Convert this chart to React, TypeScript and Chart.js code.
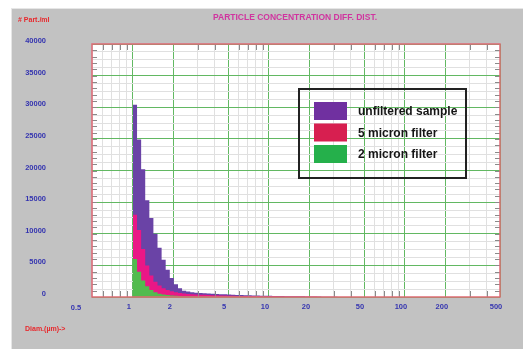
import React, { useEffect, useRef } from 'react';
import { Chart, registerables } from 'chart.js';

Chart.register(...registerables);

// Bin lower edges (µm); last entry closes the final bin
const diameters = [
  1.0, 1.072, 1.149, 1.231, 1.32, 1.414, 1.516, 1.625, 1.741, 1.866,
  2.0, 2.144, 2.297, 2.462, 2.639, 2.828, 3.031, 3.249, 3.482, 3.732,
  4.0, 4.287, 4.595, 4.925, 5.278, 5.657, 6.063, 6.498, 6.964, 7.464,
  8.0, 8.574, 9.19, 9.849, 10.56, 11.31, 12.13, 13.0, 13.93, 14.93,
  16.0, 17.15, 18.38, 19.7, 21.11, 22.63, 24.25, 25.99, 27.86, 29.86, 32.0,
];

const unfiltered = [
  30400, 24900, 20200, 15300, 12500, 10000, 7800, 5900, 4300, 3000,
  2000, 1400, 1000, 850, 750, 680, 620, 580, 550, 520,
  480, 450, 420, 380, 350, 320, 300, 280, 260, 240,
  220, 200, 190, 180, 170, 150, 140, 130, 120, 110,
  100, 130, 90, 80, 70, 60, 50, 40, 30, 20, 0,
];

const micron5 = [
  13000, 10600, 7600, 5000, 3400, 2400, 1800, 1400, 1100, 900,
  750, 620, 540, 480, 440, 400, 370, 340, 310, 290,
  270, 250, 230, 210, 190, 170, 150, 130, 120, 110,
  100, 90, 80, 70, 60, 50, 50, 40, 40, 30,
  30, 30, 20, 20, 20, 10, 10, 10, 0, 0, 0,
];

const micron2 = [
  6000, 4000, 2600, 1700, 1100, 750, 500, 400, 300, 250,
  200, 160, 130, 110, 100, 90, 80, 70, 60, 50,
  40, 40, 30, 30, 20, 20, 20, 10, 10, 10,
  10, 10, 0, 0, 0, 0, 0, 0, 0, 0,
  0, 0, 0, 0, 0, 0, 0, 0, 0, 0, 0,
];

const seriesLabels = ['unfiltered sample', '5 micron filter', '2 micron filter'];
const fillColors = ['#6a43a6', '#ea1786', '#52bb4e'];
const legendColors = ['#7030a0', '#d71f50', '#25b04b'];

const xTickValues = [
  0.5, 0.6, 0.7, 0.8, 0.9, 1, 2, 3, 4, 5, 6, 7, 8, 9,
  10, 20, 30, 40, 50, 60, 70, 80, 90, 100, 200, 300, 400, 500,
];
const xLabelValues = [1, 2, 5, 10, 20, 50, 100, 200, 500];
const yMin = 0;
const yMax = 40000;
const yLabelStep = 5000;
const yGridStep = 1250;
const yEdgeTickStep = 1000;

const titleText = 'PARTICLE CONCENTRATION DIFF. DIST.';
const yTitleText = '# Part./ml';
const xTitleText = 'Diam.(µm)->';

const FONT = '"Liberation Sans", Arial, sans-serif';
const GREEN = '#62b862';
const MINOR = '#e0e0e0';

const decorPlugin = {
  id: 'decor',
  beforeDraw(chart: any) {
    const { ctx, chartArea: a } = chart;
    ctx.save();
    ctx.fillStyle = '#ffffff';
    ctx.fillRect(a.left, a.top, a.right - a.left, a.bottom - a.top);
    ctx.restore();
  },
  afterDraw(chart: any) {
    const { ctx, chartArea: a, scales } = chart;
    const xs = scales.x;
    const ys = scales.y;
    ctx.save();
    // edge ticks
    ctx.strokeStyle = '#8a8a8a';
    ctx.lineWidth = 1;
    ctx.beginPath();
    xTickValues.forEach((v) => {
      if (xLabelValues.includes(v) || v === 0.5) return;
      const px = Math.round(xs.getPixelForValue(v)) + 0.5;
      ctx.moveTo(px, a.bottom);
      ctx.lineTo(px, a.bottom - 6);
      ctx.moveTo(px, a.top);
      ctx.lineTo(px, a.top + 6);
    });
    for (let v = yMin + yEdgeTickStep; v < yMax; v += yEdgeTickStep) {
      const py = Math.round(ys.getPixelForValue(v)) + 0.5;
      ctx.moveTo(a.left, py);
      ctx.lineTo(a.left + 5, py);
      ctx.moveTo(a.right, py);
      ctx.lineTo(a.right - 5, py);
    }
    ctx.stroke();
    // frame
    ctx.strokeStyle = '#e06a76';
    ctx.lineWidth = 1.5;
    ctx.strokeRect(a.left, a.top, a.right - a.left, a.bottom - a.top);

    // legend
    const lx = a.left + 207;
    const ly = a.top + 45;
    ctx.strokeStyle = '#222222';
    ctx.lineWidth = 2;
    ctx.strokeRect(lx, ly, 167, 89);
    ctx.font = `bold 12px ${FONT}`;
    ctx.textBaseline = 'middle';
    ctx.textAlign = 'left';
    seriesLabels.forEach((lab, i) => {
      const top = ly + 13 + i * 21.5;
      ctx.fillStyle = legendColors[i];
      ctx.fillRect(lx + 15, top, 33, 18);
      ctx.fillStyle = '#151515';
      ctx.fillText(lab, lx + 59, top + 10);
    });

    // texts
    ctx.font = `bold 8.5px ${FONT}`;
    ctx.fillStyle = '#d0359f';
    ctx.textAlign = 'center';
    ctx.fillText(titleText, 295, 18);
    ctx.font = `bold 7px ${FONT}`;
    ctx.fillStyle = '#e8282c';
    ctx.textAlign = 'left';
    ctx.fillText(yTitleText, 18, 20);
    ctx.fillText(xTitleText, 25, 329);
    // the 0.5 label sits left of the plot edge
    ctx.font = `bold 7.5px ${FONT}`;
    ctx.fillStyle = '#3535b0';
    ctx.textAlign = 'center';
    ctx.fillText('0.5', xs.getPixelForValue(0.5) - 16, 308);
    ctx.restore();
  },
};

function makeData(values: number[]) {
  return diameters.map((d, i) => ({ x: d, y: values[i] }));
}

export default function App() {
  const ref = useRef<HTMLCanvasElement>(null);
  useEffect(() => {
    if (!ref.current) return;
    const series = [unfiltered, micron5, micron2];
    const chart = new Chart(ref.current, {
      type: 'line',
      data: {
        datasets: series.map((s, i) => ({
          label: seriesLabels[i],
          data: makeData(s),
          stepped: 'before',
          fill: 'origin',
          backgroundColor: fillColors[i],
          borderColor: fillColors[i],
          borderWidth: 0,
          pointRadius: 0,
          order: 3 - i,
        })),
      } as any,
      options: {
        animation: false,
        responsive: false,
        devicePixelRatio: 1,
        layout: { padding: { left: 0, right: 23, top: 44, bottom: 0 } },
        plugins: { legend: { display: false }, tooltip: { enabled: false } },
        scales: {
          x: {
            type: 'logarithmic',
            min: 0.5,
            max: 500,
            afterBuildTicks: (scale: any) => {
              scale.ticks = xTickValues.map((v) => ({ value: v }));
            },
            afterFit: (scale: any) => {
              scale.height = 54;
              scale.paddingLeft = 0;
              scale.paddingRight = 0;
            },
            border: { display: false },
            grid: {
              drawTicks: false,
              color: (c: any) =>
                xLabelValues.includes(c.tick?.value) ? GREEN : MINOR,
              lineWidth: 1,
            },
            ticks: {
              autoSkip: false,
              maxRotation: 0,
              padding: 5,
              labelOffset: -4,
              color: '#3535b0',
              font: { family: FONT, size: 7.5, weight: 'bold' },
              callback: (v: any) => (xLabelValues.includes(Number(v)) ? String(v) : ''),
            },
          },
          y: {
            min: yMin,
            max: yMax,
            afterFit: (scale: any) => {
              scale.width = 92;
              scale.paddingTop = 0;
              scale.paddingBottom = 0;
            },
            border: { display: false },
            grid: {
              drawTicks: false,
              color: (c: any) =>
                c.tick && c.tick.value % yLabelStep === 0 ? GREEN : MINOR,
              lineWidth: 1,
            },
            ticks: {
              stepSize: yGridStep,
              autoSkip: false,
              padding: 46,
              labelOffset: -3,
              color: '#3535b0',
              font: { family: FONT, size: 7.5, weight: 'bold' },
              callback: (v: any) => (Number(v) % yLabelStep === 0 ? String(v) : ''),
            },
          },
        },
      } as any,
      plugins: [decorPlugin],
    });
    return () => chart.destroy();
  }, []);

  return (
    <div style={{ position: 'fixed', left: 0, top: 0, width: 523, height: 351, background: '#ffffff' }}>
      <div
        style={{
          position: 'absolute',
          left: 11,
          top: 8,
          width: 512,
          height: 341,
          background: '#c2c2c2',
          borderLeft: '1px solid #e6e6e6',
          borderTop: '1px solid #e6e6e6',
          boxSizing: 'border-box',
        }}
      />
      <canvas ref={ref} width={523} height={351} style={{ position: 'absolute', left: 0, top: 0 }} />
    </div>
  );
}
